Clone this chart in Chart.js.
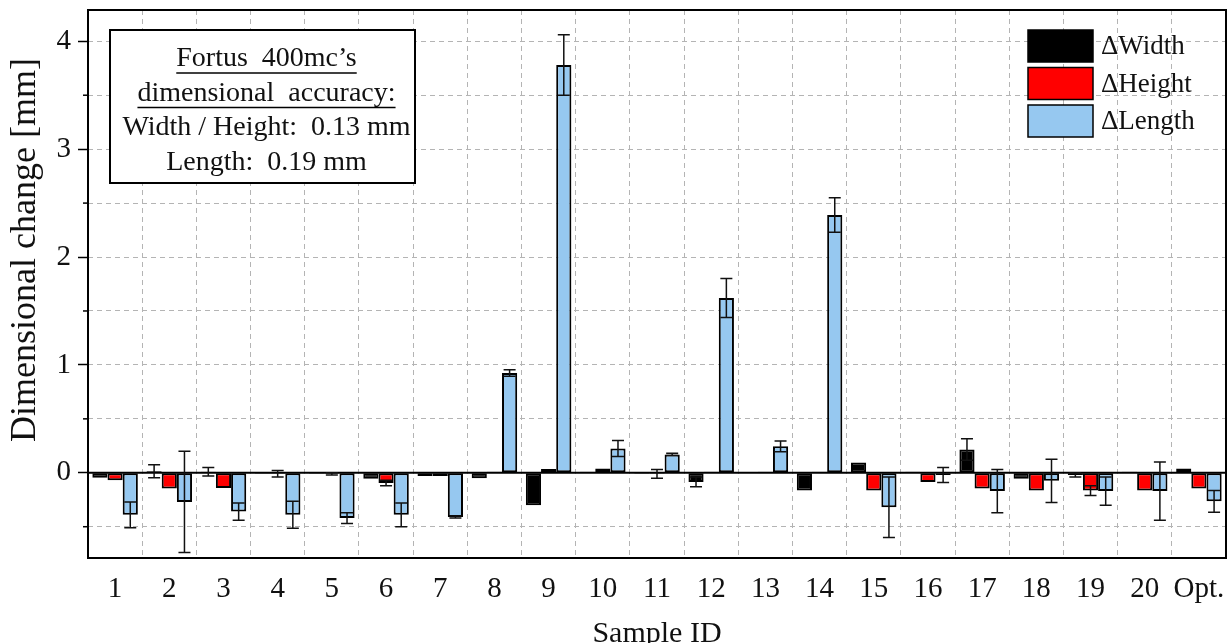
<!DOCTYPE html>
<html lang="en">
<head>
  <meta charset="UTF-8">
  <title>Dimensional change per sample</title>
  <style>
    * { box-sizing: border-box; }
    body { margin: 0; background: #fff; }
    .chart-container { position: relative; width: 1227px; height: 643px; }
  </style>
  <script src="https://cdn.jsdelivr.net/npm/chart.js@4.4.1/dist/chart.umd.min.js"></script>
</head>
<body>
  <div class="chart-container">
    <canvas id="dimChart"></canvas>
  </div>

  <script>
    // --- data (mm) ---
    const sampleIds = ['1','2','3','4','5','6','7','8','9','10','11','12','13','14','15','16','17','18','19','20','Opt.'];

    const deltaWidth    = [-0.045, 0.015, 0.01, -0.01, -0.01, -0.055, -0.03, -0.05, -0.30, 0.01, -0.01, -0.085, 0.005, -0.165, 0.095, 0.01, 0.215, -0.055, -0.02, 0.01, 0.04];
    const deltaWidthErr = [0, 0.06, 0.04, 0, 0, 0, 0, 0, 0, 0, 0, 0.045, 0, 0, 0, 0, 0.10, 0, 0.02, 0, 0];

    const deltaHeight    = [-0.07, -0.145, -0.14, -0.01, -0.01, -0.095, -0.03, 0.01, 0.035, 0.04, -0.01, 0.01, 0.01, 0.01, -0.165, -0.085, -0.145, -0.165, -0.165, -0.165, -0.145];
    const deltaHeightErr = [0, 0, 0, 0.03, 0.01, 0.025, 0, 0, 0, 0, 0.04, 0, 0, 0, 0, 0, 0, 0, 0.045, 0, 0];

    const deltaLength    = [-0.39, -0.27, -0.36, -0.39, -0.42, -0.39, -0.41, 0.925, 3.78, 0.225, 0.17, 1.62, 0.245, 2.39, -0.32, -0.02, -0.17, -0.075, -0.17, -0.17, -0.265];
    const deltaLengthErr = [0.12, 0.47, 0.08, 0.125, 0.05, 0.11, 0.01, 0.03, 0.28, 0.075, 0.01, 0.18, 0.05, 0.16, 0.28, 0.07, 0.20, 0.20, 0.13, 0.27, 0.10];

    const seriesNames = ['\u0394Width', '\u0394Height', '\u0394Length'];
    const noteLines = ['Fortus  400mc\u2019s', 'dimensional  accuracy:', 'Width / Height:  0.13 mm', 'Length:  0.19 mm'];
    const yTitle = 'Dimensional change [mm]';

    const SERIF = "'Liberation Serif', 'DejaVu Serif', serif";
    const errors = [deltaWidthErr, deltaHeightErr, deltaLengthErr];

    // zero line + minor ticks under the bars, error bars / frame / legend / note on top
    const decorations = {
      id: 'decorations',
      beforeDatasetsDraw(chart) {
        const { ctx, chartArea: a, scales: { y } } = chart;
        ctx.save();
        // minor ticks at the half steps
        ctx.strokeStyle = '#000';
        ctx.lineWidth = 1.5;
        y.ticks.forEach(t => {
          if (Math.abs(t.value * 2 - Math.round(t.value * 2)) > 1e-6 || Number.isInteger(t.value)) return;
          const py = y.getPixelForValue(t.value);
          ctx.beginPath(); ctx.moveTo(a.left - 5, py); ctx.lineTo(a.left, py); ctx.stroke();
        });
        // zero line
        const y0 = y.getPixelForValue(0);
        ctx.lineWidth = 2;
        ctx.beginPath(); ctx.moveTo(a.left, y0); ctx.lineTo(a.right, y0); ctx.stroke();
        ctx.restore();
      },
      afterDatasetsDraw(chart) {
        const { ctx, scales: { y } } = chart;
        ctx.save();
        ctx.strokeStyle = '#111';
        ctx.lineWidth = 1.5;
        chart.data.datasets.forEach((ds, i) => {
          const meta = chart.getDatasetMeta(i);
          meta.data.forEach((bar, j) => {
            const e = errors[i][j];
            if (!e) return;
            const v = ds.data[j];
            const yt = y.getPixelForValue(v + e);
            const yb = y.getPixelForValue(v - e);
            ctx.beginPath();
            ctx.moveTo(bar.x, yt); ctx.lineTo(bar.x, yb);
            ctx.moveTo(bar.x - 6, yt); ctx.lineTo(bar.x + 6, yt);
            ctx.moveTo(bar.x - 6, yb); ctx.lineTo(bar.x + 6, yb);
            ctx.stroke();
          });
        });
        ctx.restore();
      },
      afterDraw(chart) {
        const { ctx, chartArea: a } = chart;
        ctx.save();
        // plot frame
        ctx.strokeStyle = '#000';
        ctx.lineWidth = 2;
        ctx.strokeRect(a.left, a.top, a.right - a.left, a.bottom - a.top);

        // y axis title, sits a little above the plot's middle in the original
        ctx.save();
        ctx.translate(26, a.top + 240);
        ctx.rotate(-Math.PI / 2);
        ctx.font = '36px ' + SERIF;
        ctx.fillStyle = '#111';
        ctx.textAlign = 'center';
        ctx.textBaseline = 'middle';
        ctx.fillText(yTitle, 0, 0);
        ctx.restore();

        // legend (top right)
        const lx = a.right - 198, ly = a.top + 20;
        ctx.font = '27px ' + SERIF;
        ctx.textBaseline = 'middle';
        ctx.textAlign = 'left';
        chart.data.datasets.forEach((ds, i) => {
          const top = ly + i * 37.5;
          ctx.fillStyle = ds.backgroundColor;
          ctx.fillRect(lx, top, 65, 32);
          ctx.lineWidth = 1.5;
          ctx.strokeStyle = '#000';
          ctx.strokeRect(lx, top, 65, 32);
          ctx.fillStyle = '#111';
          ctx.fillText(ds.label, lx + 73, top + 17);
        });

        // accuracy note box (top left)
        const bx = a.left + 22, by = a.top + 20, bw = 305, bh = 153;
        ctx.fillStyle = '#fff';
        ctx.fillRect(bx, by, bw, bh);
        ctx.lineWidth = 2;
        ctx.strokeRect(bx, by, bw, bh);
        ctx.font = '28px ' + SERIF;
        ctx.textAlign = 'center';
        ctx.fillStyle = '#111';
        const cx = bx + bw / 2 + 4;
        noteLines.forEach((txt, k) => {
          const ty = by + 29 + k * 34.5;
          ctx.fillText(txt, cx, ty);
          if (k < 2) {
            const w = ctx.measureText(txt).width;
            ctx.lineWidth = 1.5;
            ctx.beginPath();
            ctx.moveTo(cx - w / 2, ty + 14); ctx.lineTo(cx + w / 2, ty + 14);
            ctx.stroke();
          }
        });
        ctx.restore();
      }
    };

    const barStyle = { borderColor: '#000', borderWidth: 2, borderSkipped: false };

    new Chart(document.getElementById('dimChart'), {
      type: 'bar',
      data: {
        labels: sampleIds,
        datasets: [
          { label: seriesNames[0], data: deltaWidth,  backgroundColor: '#000000', ...barStyle },
          { label: seriesNames[1], data: deltaHeight, backgroundColor: '#ff0000', ...barStyle },
          { label: seriesNames[2], data: deltaLength, backgroundColor: '#96c8f0', ...barStyle }
        ]
      },
      options: {
        responsive: true,
        maintainAspectRatio: false,
        animation: false,
        layout: { padding: { top: 10, right: 1, left: 0, bottom: 0 } },
        datasets: { bar: { categoryPercentage: 0.84, barPercentage: 1.0 } },
        scales: {
          x: {
            offset: true,
            afterFit: s => { s.height = 85; s.paddingLeft = 0; s.paddingRight = 0; },
            grid: { offset: true, color: '#b4b4b4', lineWidth: 1, drawTicks: false },
            border: { display: false, dash: [5, 4] },
            ticks: {
              color: '#111', autoSkip: false, maxRotation: 0, padding: 14,
              font: { family: SERIF, size: 29 }
            },
            title: {
              display: true, text: 'Sample ID', color: '#111',
              font: { family: SERIF, size: 30, lineHeight: 0.6 },
              padding: { top: 0, bottom: 0 }
            }
          },
          y: {
            min: -0.79,
            max: 4.29,
            afterFit: s => { s.width = 88; s.paddingTop = 0; s.paddingBottom = 0; },
            grid: {
              color: c => (Math.abs(c.tick.value * 2 - Math.round(c.tick.value * 2)) < 1e-6 ? '#b4b4b4' : 'rgba(0,0,0,0)'),
              tickColor: c => (Number.isInteger(c.tick.value) ? '#000' : 'rgba(0,0,0,0)'),
              tickLength: 10,
              tickWidth: 1.5
            },
            border: { display: false, dash: [5, 4] },
            ticks: {
              stepSize: 0.5,
              includeBounds: false,
              padding: 7,
              color: '#111',
              font: { family: SERIF, size: 29 },
              callback: v => (Number.isInteger(v) ? String(v) : '')
            },
            title: { display: false }
          }
        },
        plugins: {
          legend: { display: false },
          tooltip: { enabled: false }
        }
      },
      plugins: [decorations]
    });
  </script>
</body>
</html>
